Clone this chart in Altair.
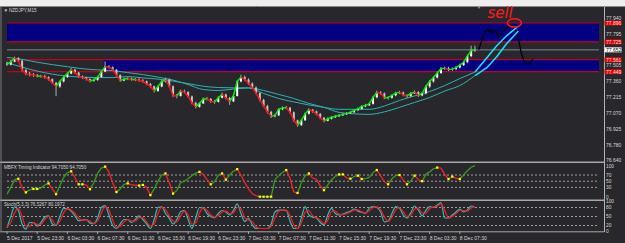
import altair as alt
import pandas as pd

# ---------------- data (30-minute grid, hours after 5 Dec 2017 19:30) ----------------
close = [
    77.517, 77.544, 77.576, 77.553, 77.467, 77.435, 77.426, 77.422, 77.412, 77.412,
    77.403, 77.385, 77.351, 77.317, 77.363, 77.403, 77.435, 77.471, 77.444, 77.408,
    77.399, 77.385, 77.367, 77.376, 77.403, 77.453, 77.499, 77.494, 77.471, 77.422,
    77.372, 77.385, 77.390, 77.381, 77.381, 77.372, 77.365, 77.340, 77.320, 77.276,
    77.317, 77.363, 77.381, 77.320, 77.236, 77.231, 77.276, 77.267, 77.227, 77.169,
    77.131, 77.163, 77.204, 77.204, 77.181, 77.177, 77.215, 77.245, 77.213, 77.181,
    77.231, 77.363, 77.403, 77.381, 77.344, 77.308, 77.258, 77.195, 77.140, 77.086,
    77.045, 77.054, 77.109, 77.122, 77.124, 77.082, 77.009, 76.964, 77.009, 77.068,
    77.106, 77.091, 77.068, 77.032, 77.004, 77.023, 77.036, 77.045, 77.054, 77.063,
    77.072, 77.082, 77.100, 77.113, 77.136, 77.145, 77.159, 77.218, 77.263, 77.254,
    77.215, 77.215, 77.236, 77.258, 77.263, 77.240, 77.229, 77.254, 77.267, 77.236,
    77.254, 77.317, 77.363, 77.399, 77.440, 77.480, 77.485, 77.471, 77.476, 77.490,
    77.512, 77.539, 77.594, 77.648, 77.652]
high = [
    77.545, 77.560, 77.590, 77.585, 77.560, 77.478, 77.450, 77.440, 77.432, 77.425,
    77.425, 77.410, 77.392, 77.360, 77.372, 77.412, 77.448, 77.485, 77.480, 77.450,
    77.418, 77.405, 77.392, 77.390, 77.415, 77.462, 77.546, 77.512, 77.500, 77.478,
    77.428, 77.398, 77.402, 77.398, 77.395, 77.392, 77.385, 77.372, 77.350, 77.325,
    77.328, 77.375, 77.398, 77.390, 77.328, 77.250, 77.288, 77.290, 77.275, 77.235,
    77.178, 77.175, 77.218, 77.222, 77.212, 77.195, 77.228, 77.262, 77.252, 77.222,
    77.245, 77.378, 77.425, 77.418, 77.392, 77.355, 77.318, 77.265, 77.205, 77.150,
    77.095, 77.070, 77.120, 77.135, 77.140, 77.130, 77.090, 77.015, 77.022, 77.080,
    77.118, 77.112, 77.098, 77.075, 77.040, 77.035, 77.048, 77.058, 77.066, 77.076,
    77.085, 77.094, 77.112, 77.126, 77.148, 77.160, 77.172, 77.232, 77.280, 77.275,
    77.262, 77.230, 77.248, 77.270, 77.278, 77.272, 77.248, 77.266, 77.282, 77.275,
    77.266, 77.330, 77.378, 77.412, 77.455, 77.496, 77.500, 77.498, 77.492, 77.505,
    77.526, 77.552, 77.610, 77.690, 77.690]
low = [
    77.505, 77.510, 77.538, 77.540, 77.455, 77.420, 77.410, 77.405, 77.400, 77.398,
    77.390, 77.372, 77.340, 77.229, 77.305, 77.355, 77.395, 77.428, 77.432, 77.398,
    77.385, 77.372, 77.355, 77.360, 77.370, 77.398, 77.448, 77.480, 77.460, 77.410,
    77.360, 77.365, 77.375, 77.370, 77.366, 77.360, 77.352, 77.330, 77.308, 77.262,
    77.268, 77.310, 77.355, 77.310, 77.222, 77.210, 77.225, 77.255, 77.215, 77.155,
    77.118, 77.125, 77.158, 77.190, 77.168, 77.160, 77.170, 77.208, 77.200, 77.150,
    77.175, 77.225, 77.355, 77.370, 77.332, 77.295, 77.245, 77.182, 77.128, 77.072,
    77.030, 77.035, 77.048, 77.100, 77.110, 77.070, 76.995, 76.950, 76.958, 77.002,
    77.060, 77.078, 77.055, 77.020, 76.990, 76.998, 77.015, 77.030, 77.040, 77.048,
    77.058, 77.066, 77.076, 77.095, 77.108, 77.130, 77.140, 77.152, 77.210, 77.240,
    77.202, 77.198, 77.205, 77.228, 77.248, 77.228, 77.214, 77.222, 77.248, 77.222,
    77.228, 77.245, 77.305, 77.352, 77.390, 77.432, 77.468, 77.458, 77.460, 77.466,
    77.482, 77.505, 77.530, 77.585, 77.632]
first_open = 77.530

mbfx = [
    8, 30, 55, 58, 30, 14, 22, 25, 25, 28,
    38, 43, 25, 8, 35, 62, 78, 82, 62, 40,
    40, 38, 24, 45, 75, 92, 97, 80, 45, 15,
    25, 40, 43, 38, 37, 36, 38, 30, 5, 25,
    50, 70, 75, 45, 10, 20, 45, 50, 58, 68,
    76, 80, 72, 55, 40, 48, 70, 75, 55, 70,
    82, 89, 70, 45, 25, 10, 3, 0, 0, 0,
    0, 55, 68, 78, 86, 60, 15, 12, 45, 68,
    75, 60, 57, 35, 21, 38, 55, 65, 72, 72,
    60, 58, 65, 68, 57, 58, 62, 78, 86, 68,
    48, 40, 58, 68, 70, 55, 40, 50, 68, 55,
    50, 72, 80, 90, 94, 92, 72, 57, 65, 60,
    57, 70, 84, 95, 100]
stoch_k = [
    12, 50, 82, 70, 25, 8, 30, 30, 18, 30,
    48, 52, 25, 20, 50, 77, 76, 68, 52, 36,
    38, 40, 28, 26, 45, 80, 86, 55, 20, 10,
    25, 40, 40, 30, 40, 52, 40, 25, 10, 40,
    80, 82, 60, 44, 25, 40, 66, 70, 40, 10,
    45, 80, 78, 60, 50, 46, 60, 70, 65, 55,
    70, 92, 60, 33, 44, 22, 10, 10, 10, 10,
    25, 65, 71, 71, 70, 35, 10, 10, 45, 83,
    55, 48, 45, 30, 22, 55, 77, 60, 55, 58,
    63, 67, 75, 68, 64, 60, 78, 83, 80, 66,
    32, 35, 60, 83, 78, 55, 45, 62, 85, 72,
    52, 70, 83, 80, 88, 96, 45, 45, 55, 65,
    75, 65, 72, 85, 82]
stoch_d = [
    15, 30, 62, 78, 50, 18, 18, 30, 24, 24,
    40, 50, 38, 22, 35, 62, 76, 72, 60, 44,
    37, 39, 34, 27, 35, 62, 83, 72, 38, 15,
    18, 32, 40, 35, 35, 46, 46, 32, 18, 25,
    60, 81, 72, 52, 35, 32, 52, 68, 55, 25,
    28, 62, 79, 70, 55, 48, 53, 65, 68, 60,
    62, 80, 76, 46, 38, 33, 16, 10, 10, 10,
    17, 45, 68, 71, 71, 52, 22, 10, 28, 64,
    70, 52, 47, 38, 26, 38, 66, 68, 58, 56,
    60, 65, 71, 72, 66, 62, 69, 80, 82, 73,
    49, 34, 48, 72, 80, 66, 50, 54, 74, 78,
    62, 61, 76, 82, 84, 92, 70, 45, 50, 60,
    70, 70, 68, 78, 84]

ma_hours = list(range(0, 63, 2))
ma_fast = [77.583, 77.565, 77.539, 77.517, 77.498, 77.480, 77.469, 77.462, 77.444, 77.426,
           77.403, 77.376, 77.335, 77.290, 77.281, 77.294, 77.304, 77.254, 77.208, 77.177,
           77.149, 77.127, 77.109, 77.109, 77.109, 77.139, 77.190, 77.231, 77.272, 77.326,
           77.390, 77.449]
ma_slow = [77.535, 77.494, 77.458, 77.430, 77.412, 77.403, 77.399, 77.399, 77.408, 77.396,
           77.385, 77.367, 77.344, 77.320, 77.308, 77.305, 77.305, 77.281, 77.245, 77.208,
           77.163, 77.127, 77.081, 77.068, 77.063, 77.086, 77.127, 77.172, 77.217, 77.276,
           77.326, 77.417]

time_tick_hours = list(range(0, 61, 4))
time_tick_labels = ["5 Dec 2017", "5 Dec 23:30", "6 Dec 03:30", "6 Dec 07:30", "6 Dec 11:30",
                    "6 Dec 15:30", "6 Dec 19:30", "6 Dec 23:30", "7 Dec 03:30", "7 Dec 07:30",
                    "7 Dec 11:30", "7 Dec 15:30", "7 Dec 19:30", "7 Dec 23:30", "8 Dec 03:30",
                    "8 Dec 07:30"]

price_ticks = [77.940, 77.795, 77.505, 77.360, 77.215, 77.070, 76.925, 76.780, 76.640]
price_tick_labels = ["77.940", "77.795", "77.505", "77.360", "77.215", "77.070", "76.925",
                     "76.780", "76.640"]

zone_top = [77.897, 77.562]
zone_bottom = [77.725, 77.453]
zone_start_hour = [0.0, 12.8]
level_prices = [77.897, 77.725, 77.562, 77.453]
level_labels = ["77.896", "77.725", "77.561", "77.449"]
bid_price = [77.652]
bid_label = ["77.652"]

mbfx_levels = [70, 50, 30]
mbfx_ticks = [100, 70, 50, 30, 0]
stoch_levels = [80, 50, 20]
stoch_ticks = [100, 80, 50, 20, 0]

# hand-drawn annotations
sketch_hours = [62.50, 62.93, 63.19, 63.45, 63.67, 63.84, 64.01, 64.23, 64.50, 64.79, 65.11,
                65.32, 65.67, 65.97, 66.41, 66.84, 67.27, 67.58, 67.84, 68.14, 68.44, 68.70,
                69.22, 69.67]
sketch_prices = [77.653, 77.743, 77.798, 77.825, 77.840, 77.819, 77.840, 77.804, 77.829,
                 77.829, 77.773, 77.789, 77.816, 77.843, 77.866, 77.879, 77.849, 77.804,
                 77.728, 77.623, 77.562, 77.532, 77.523, 77.568]
cyan1_hours = [62.02, 63.58, 64.89, 66.19, 67.62]
cyan1_prices = [77.449, 77.580, 77.689, 77.780, 77.861]
cyan2_hours = [62.02, 63.58, 64.89, 66.19, 67.75]
cyan2_prices = [77.417, 77.489, 77.589, 77.707, 77.825]
circle_at = [67.23, 77.898]
sell_at = [63.65, 77.946]
marker_at = [62.54, 78.043]

# ---------------- scales ----------------
H_END = 78.44
xs = alt.Scale(domain=[0, H_END], range=[2, 604], nice=False, zero=False)
ps = alt.Scale(domain=[76.640, 77.940], range=[160.7, 18.3], nice=False, zero=False)
ms = alt.Scale(domain=[0, 100], range=[196.7, 165.7], nice=False, zero=False)
ss = alt.Scale(domain=[0, 100], range=[231.5, 201.5], nice=False, zero=False)


def X(f):
    return alt.X(f, type="quantitative", scale=xs, axis=None)


def Ys(f, s):
    return alt.Y(f, type="quantitative", scale=s, axis=None)


FONT = "Liberation Sans"
TXT = "#d6d6d6"
one = pd.DataFrame({"k": [0]})
n = len(close)
hours = [i * 0.5 for i in range(n)]
opens = [first_open] + close[:-1]
grid = pd.DataFrame({"h": hours, "o": opens, "c": close, "hi": high, "lo": low,
                     "m": mbfx, "k": stoch_k, "d": stoch_d})
grid["up"] = grid["c"] >= grid["o"]
seg = pd.DataFrame({"h": hours[:-1], "h2": hours[1:], "c": close[:-1], "c2": close[1:],
                    "m": mbfx[:-1], "m2": mbfx[1:]})

turn_idx = [i for i in range(1, n - 1)
            if (mbfx[i] - mbfx[i - 1]) * (mbfx[i + 1] - mbfx[i]) <= 0]
turns = grid.iloc[turn_idx]


def rect_px(x0, x1, y0, y1, color):
    return alt.Chart(one).mark_rect(color=color).encode(
        x=alt.value(x0), x2=alt.value(x1), y=alt.value(y0), y2=alt.value(y1))


def hline_px(x0, x1, y, color, w=1.0):
    return alt.Chart(one).mark_rule(color=color, strokeWidth=w).encode(
        x=alt.value(x0), x2=alt.value(x1), y=alt.value(y))


def vline_px(x, y0, y1, color, w=1.0):
    return alt.Chart(one).mark_rule(color=color, strokeWidth=w).encode(
        x=alt.value(x), y=alt.value(y0), y2=alt.value(y1))


layers = []
# window chrome
layers.append(rect_px(0, 625, 0, 6, "#eeeeee"))
layers.append(hline_px(0, 625, 6.5, "#8a8a8a"))

# zones & levels
zones = pd.DataFrame({"h0": zone_start_hour, "h1": [H_END] * 2, "pt": zone_top, "pb": zone_bottom})
layers.append(alt.Chart(zones).mark_rect(color="#000080").encode(
    x=X("h0"), x2="h1", y=Ys("pt", ps), y2="pb"))
lev = pd.DataFrame({"h0": [0] * 4, "h1": [H_END] * 4, "p": level_prices, "t": level_labels})
layers.append(alt.Chart(lev).mark_rule(color="#c4001c", strokeWidth=1.2).encode(
    x=X("h0"), x2="h1", y=Ys("p", ps)))
bid = pd.DataFrame({"h0": [0], "h1": [H_END], "p": bid_price, "t": bid_label})
layers.append(alt.Chart(bid).mark_rule(color="#7d8a96", strokeWidth=1).encode(
    x=X("h0"), x2="h1", y=Ys("p", ps)))

# moving averages
ma = pd.DataFrame({"h": ma_hours, "f": ma_fast, "s": ma_slow})
layers.append(alt.Chart(ma).mark_line(color="#2bb3b3", strokeWidth=1, interpolate="monotone").encode(
    x=X("h"), y=Ys("f", ps)))
layers.append(alt.Chart(ma).mark_line(color="#2bb3b3", strokeWidth=1, interpolate="monotone").encode(
    x=X("h"), y=Ys("s", ps)))

# candles
layers.append(alt.Chart(grid).mark_rule(color="#b0b0b0", strokeWidth=1).encode(
    x=X("h"), y=Ys("lo", ps), y2="hi"))
layers.append(alt.Chart(grid[grid["up"]]).mark_bar(color="#ffffff", size=2).encode(
    x=X("h"), y=Ys("o", ps), y2="c"))
layers.append(alt.Chart(grid[~grid["up"]]).mark_bar(color="#c4c4c4", size=2).encode(
    x=X("h"), y=Ys("o", ps), y2="c"))

# coloured signal line
layers.append(alt.Chart(seg[seg["c2"] >= seg["c"]]).mark_rule(color="#00ee00", strokeWidth=1.5).encode(
    x=X("h"), x2="h2", y=Ys("c", ps), y2="c2"))
layers.append(alt.Chart(seg[seg["c2"] < seg["c"]]).mark_rule(color="#ff1010", strokeWidth=1.5).encode(
    x=X("h"), x2="h2", y=Ys("c", ps), y2="c2"))

# MBFX panel
mlev = pd.DataFrame({"h0": [0] * 3, "h1": [H_END] * 3, "v": mbfx_levels})
layers.append(alt.Chart(mlev).mark_rule(color="#bdbdbd", strokeDash=[2, 2], strokeWidth=0.8).encode(
    x=X("h0"), x2="h1", y=Ys("v", ms)))
layers.append(alt.Chart(seg[seg["m2"] >= seg["m"]]).mark_rule(color="#3a9e1c", strokeWidth=1.3).encode(
    x=X("h"), x2="h2", y=Ys("m", ms), y2="m2"))
layers.append(alt.Chart(seg[seg["m2"] < seg["m"]]).mark_rule(color="#ff2020", strokeWidth=1.3).encode(
    x=X("h"), x2="h2", y=Ys("m", ms), y2="m2"))
layers.append(alt.Chart(turns).mark_point(shape="square", size=5, filled=True, color="#ffff00", opacity=1).encode(
    x=X("h"), y=Ys("m", ms)))

# Stochastic panel
slev = pd.DataFrame({"h0": [0] * 3, "h1": [H_END] * 3, "v": stoch_levels})
layers.append(alt.Chart(slev).mark_rule(color="#bdbdbd", strokeDash=[2, 2], strokeWidth=0.8).encode(
    x=X("h0"), x2="h1", y=Ys("v", ss)))
layers.append(alt.Chart(grid).mark_line(color="#2fbaba", strokeWidth=1.2, interpolate="monotone").encode(
    x=X("h"), y=Ys("k", ss)))
layers.append(alt.Chart(grid).mark_line(color="#ff1a1a", strokeWidth=1.2, interpolate="monotone").encode(
    x=X("h"), y=Ys("d", ss)))

# frames
layers.append(hline_px(0, 604, 162.3, "#a8a8a8", 1.5))
layers.append(hline_px(0, 604, 200.2, "#a8a8a8", 1.5))
layers.append(hline_px(0, 604, 231.8, "#a8a8a8", 1))
layers.append(vline_px(604.5, 7, 232, "#b4b4b4"))
layers.append(vline_px(1, 7, 232, "#7a7a7a"))

# right-hand labels
ptk = pd.DataFrame({"p": price_ticks, "t": price_tick_labels})
layers.append(alt.Chart(ptk).mark_text(align="left", baseline="middle", font=FONT, fontSize=5, color=TXT,
                                       dy=-0.5).encode(
    x=alt.value(606), y=Ys("p", ps), text="t"))
layers.append(alt.Chart(lev).mark_tick(orient="horizontal", size=17, thickness=5, color="#e00000", opacity=1).encode(
    x=alt.value(613), y=Ys("p", ps)))
layers.append(alt.Chart(lev).mark_text(align="left", baseline="middle", font=FONT, fontSize=5, color="#ffe0e0").encode(
    x=alt.value(606), y=Ys("p", ps), text="t"))
layers.append(alt.Chart(bid).mark_tick(orient="horizontal", size=17, thickness=5, color="#ffffff", opacity=1).encode(
    x=alt.value(613), y=Ys("p", ps)))
layers.append(alt.Chart(bid).mark_text(align="left", baseline="middle", font=FONT, fontSize=5, color="#000000").encode(
    x=alt.value(606), y=Ys("p", ps), text="t"))
mtk = pd.DataFrame({"v": mbfx_ticks, "t": [str(v) for v in mbfx_ticks]})
layers.append(alt.Chart(mtk).mark_text(align="left", baseline="middle", font=FONT, fontSize=4.8, color=TXT,
                                       dy=0.8).encode(
    x=alt.value(606), y=Ys("v", ms), text="t"))
stk = pd.DataFrame({"v": stoch_ticks, "t": [str(v) for v in stoch_ticks]})
layers.append(alt.Chart(stk).mark_text(align="left", baseline="middle", font=FONT, fontSize=4.8, color=TXT).encode(
    x=alt.value(606), y=Ys("v", ss), text="t"))

# time axis
ttk = pd.DataFrame({"h": time_tick_hours, "t": time_tick_labels})
layers.append(alt.Chart(ttk).mark_rule(color="#a8a8a8", strokeWidth=1).encode(
    x=X("h"), y=alt.value(231.5), y2=alt.value(234)))
layers.append(alt.Chart(ttk).mark_text(align="left", baseline="middle", font=FONT, fontSize=5, color=TXT).encode(
    x=X("h"), y=alt.value(237.5), text="t"))

# panel titles
layers.append(alt.Chart(one).mark_text(align="left", baseline="middle", font=FONT, fontSize=4.6, color=TXT,
                                       text="\u25bc").encode(x=alt.value(3.5), y=alt.value(11)))
layers.append(alt.Chart(one).mark_text(align="left", baseline="middle", font=FONT, fontSize=4.6, color=TXT,
                                       text="NZDJPY,M15").encode(x=alt.value(9), y=alt.value(11)))
layers.append(alt.Chart(one).mark_text(align="left", baseline="middle", font=FONT, fontSize=4.6, color=TXT,
                                       text="MBFX Timing Indicator 94.7050 94.7050").encode(
    x=alt.value(4), y=alt.value(168)))
layers.append(alt.Chart(one).mark_text(align="left", baseline="middle", font=FONT, fontSize=4.6, color=TXT,
                                       text="Stoch(5,3,3) 76.5267 80.1972").encode(
    x=alt.value(4), y=alt.value(205)))

# hand-drawn annotations
sk = pd.DataFrame({"h": sketch_hours, "p": sketch_prices, "o": list(range(len(sketch_hours)))})
layers.append(alt.Chart(sk).mark_line(color="#000000", strokeWidth=1.2).encode(
    x=X("h"), y=Ys("p", ps), order="o"))
c1 = pd.DataFrame({"h": cyan1_hours, "p": cyan1_prices})
layers.append(alt.Chart(c1).mark_line(color="#18e4ff", strokeWidth=1.5).encode(x=X("h"), y=Ys("p", ps)))
c2 = pd.DataFrame({"h": cyan2_hours, "p": cyan2_prices})
layers.append(alt.Chart(c2).mark_line(color="#18e4ff", strokeWidth=1.5).encode(x=X("h"), y=Ys("p", ps)))
circ = pd.DataFrame({"h": [circle_at[0]], "p": [circle_at[1]]})
layers.append(alt.Chart(circ).mark_point(
    shape="M-1,0 A1,0.6 0 1,1 1,0 A1,0.6 0 1,1 -1,0 Z", size=196, filled=False,
    color="#ff1a1a", strokeWidth=1.5, opacity=1).encode(x=X("h"), y=Ys("p", ps)))
sell = pd.DataFrame({"h": [sell_at[0]], "p": [sell_at[1]], "t": ["sell"]})
layers.append(alt.Chart(sell).mark_text(align="left", baseline="alphabetic", font="DejaVu Sans",
                                        fontStyle="italic", fontSize=15, color="#ff1a1a").encode(
    x=X("h"), y=Ys("p", ps), text="t"))
mk = pd.DataFrame({"h": [marker_at[0]], "p": [marker_at[1]], "t": ["\u25bc"]})
layers.append(alt.Chart(mk).mark_text(align="center", baseline="middle", font=FONT, fontSize=5,
                                      color="#9aa0a8").encode(x=X("h"), y=Ys("p", ps), text="t"))

chart = alt.layer(*layers).resolve_scale(y="independent").properties(
    width=625, height=243, padding=0, background="#28282c",
    autosize=alt.AutoSizeParams(type="none")
).configure_view(strokeWidth=0, stroke=None)

chart.save("out.html", embed_options={"renderer": "svg", "actions": False})
